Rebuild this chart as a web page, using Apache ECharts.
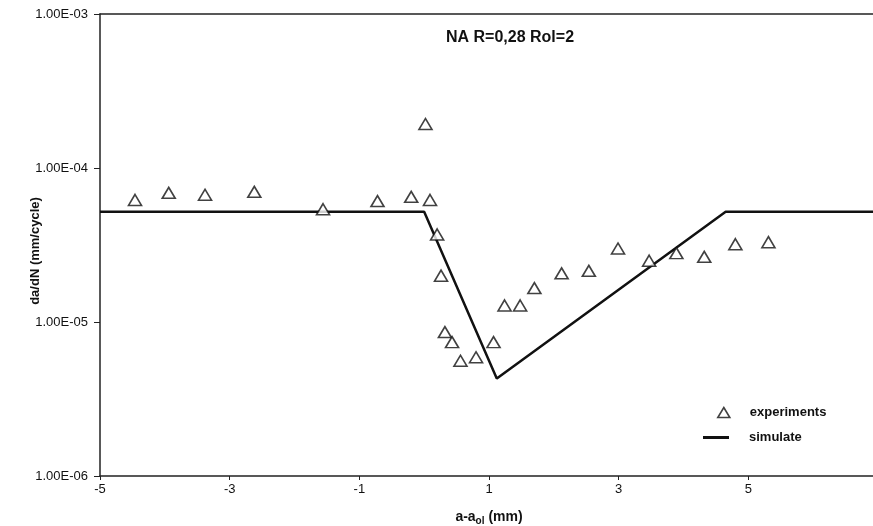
<!DOCTYPE html>
<html>
<head>
<meta charset="utf-8">
<script src="https://cdn.jsdelivr.net/npm/echarts@6/dist/echarts.min.js"></script>
<style>
  html, body { margin: 0; padding: 0; background: #fff; }
  #main { width: 873px; height: 526px; }
</style>
</head>
<body>
<div id="main"></div>
<script>
// experimental points (a-a_ol in mm, da/dN in mm/cycle)
var expX = [-4.46, -3.94, -3.38, -2.62, -1.56, -0.72, -0.2, 0.09, 0.02, 0.2, 0.26, 0.32, 0.43, 0.56, 0.8, 1.07, 1.24, 1.48, 1.7, 2.12, 2.54, 2.99, 3.47, 3.89, 4.32, 4.8, 5.31];
var expY = [6.2e-5, 6.9e-5, 6.7e-5, 7.0e-5, 5.4e-5, 6.1e-5, 6.5e-5, 6.2e-5, 1.93e-4, 3.7e-5, 2.0e-5, 8.6e-6, 7.4e-6, 5.6e-6, 5.9e-6, 7.4e-6, 1.28e-5, 1.28e-5, 1.66e-5, 2.07e-5, 2.15e-5, 3.0e-5, 2.5e-5, 2.8e-5, 2.65e-5, 3.2e-5, 3.3e-5];

// simulated curve
var simX = [-5, 0, 1.12, 4.65, 7];
var simY = [5.2e-5, 5.2e-5, 4.3e-6, 5.2e-5, 5.2e-5];

var xTicks = [-5, -3, -1, 1, 3, 5];
var yTicks = [1e-6, 1e-5, 1e-4, 1e-3];

var myChart = echarts.init(document.getElementById('main'));

function zip(a, b) {
  var out = [];
  for (var i = 0; i < a.length; i++) out.push([a[i], b[i]]);
  return out;
}

// 1e-4 -> "1.00E-04"
function sciLabel(v) {
  var e = Math.round(Math.log(v) / Math.LN10);
  var s = Math.abs(e) < 10 ? '0' + Math.abs(e) : '' + Math.abs(e);
  return '1.00E' + (e < 0 ? '-' : '+') + s;
}

var lblFont = 'Liberation Sans, Arial, sans-serif';
var legendText = { fontFamily: lblFont, fontSize: 13, fontWeight: 'bold', color: '#111', padding: [0, 0, 0, 15] };

var option = {
  animation: false,
  backgroundColor: '#fff',
  title: {
    text: 'NA R=0,28 Rol=2',
    left: 505,
    top: 25,
    textAlign: 'center',
    textStyle: { fontFamily: lblFont, fontSize: 16, fontWeight: 'bold', color: '#111' }
  },
  legend: [{
    orient: 'vertical',
    left: 717,
    top: 406,
    padding: 0,
    itemWidth: 12,
    itemHeight: 10,
    textStyle: legendText,
    data: [{ name: 'experiments', icon: 'triangle', itemStyle: { color: '#fff', borderColor: '#111', borderWidth: 1.6 } }]
  }, {
    orient: 'vertical',
    left: 703,
    top: 431,
    padding: 0,
    itemWidth: 26,
    itemHeight: 3,
    textStyle: legendText,
    data: [{ name: 'simulate', icon: 'rect' }]
  }],
  grid: { left: 100, right: -5, top: 14, bottom: 50, containLabel: false, outerBoundsMode: 'none' },
  xAxis: [{
    type: 'value',
    min: -5,
    max: 7,
    interval: 2,
    name: 'a-a{sub|ol} (mm)',
    nameLocation: 'middle',
    nameGap: 33,
    nameTextStyle: {
      fontFamily: lblFont, fontSize: 14, fontWeight: 'bold', color: '#111',
      rich: { sub: { fontFamily: lblFont, fontSize: 10, fontWeight: 'bold', color: '#111', verticalAlign: 'bottom', padding: [7, 0, 0, 0] } }
    },
    splitLine: { show: false },
    axisLine: { onZero: false, lineStyle: { color: '#222', width: 1.5 } },
    axisTick: { show: true, length: 4, lineStyle: { color: '#222' } },
    axisLabel: {
      fontFamily: lblFont, fontSize: 13, color: '#111', margin: 7,
      formatter: function (v) { return xTicks.indexOf(v) >= 0 ? String(v) : ''; }
    }
  }, {
    type: 'value',
    position: 'top',
    min: -5,
    max: 7,
    axisLine: { show: true, onZero: false, lineStyle: { color: '#222', width: 1.5 } },
    axisTick: { show: false },
    axisLabel: { show: false },
    splitLine: { show: false }
  }],
  yAxis: {
    type: 'log',
    logBase: 10,
    min: yTicks[0],
    max: yTicks[yTicks.length - 1],
    name: 'da/dN (mm/cycle)',
    nameLocation: 'middle',
    nameGap: 58,
    nameMoveOverlap: false,
    nameTextStyle: { fontFamily: lblFont, fontSize: 13, fontWeight: 'bold', color: '#111', padding: [0, 12, 0, 0] },
    splitLine: { show: false },
    axisLine: { show: true, onZero: false, lineStyle: { color: '#222', width: 1.5 } },
    axisTick: { show: true, length: 6, lineStyle: { color: '#222' } },
    axisLabel: {
      fontFamily: lblFont, fontSize: 13, color: '#111', margin: 12,
      formatter: sciLabel
    }
  },
  series: [{
    name: 'experiments',
    type: 'scatter',
    symbol: 'triangle',
    symbolSize: [13, 11],
    itemStyle: { color: '#fff', borderColor: '#111', borderWidth: 1.6 },
    data: zip(expX, expY),
    z: 3
  }, {
    name: 'simulate',
    type: 'line',
    symbol: 'none',
    showSymbol: false,
    lineStyle: { color: '#111', width: 2.5 },
    itemStyle: { color: '#111' },
    data: zip(simX, simY),
    z: 2
  }]
};

myChart.setOption(option);
</script>
</body>
</html>
